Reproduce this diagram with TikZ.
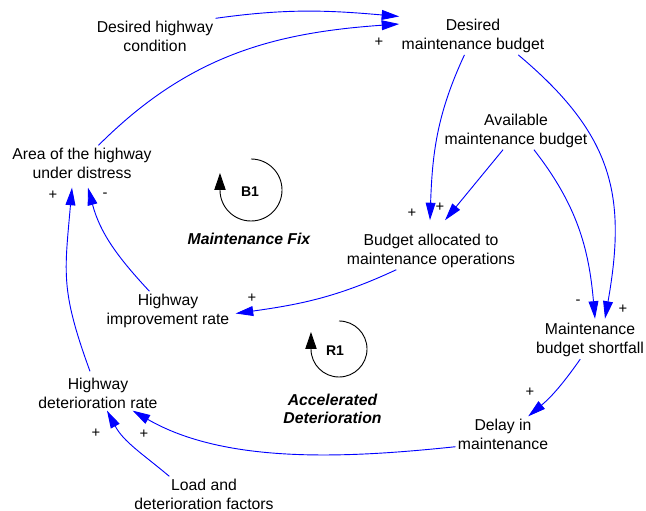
\documentclass[tikz,border=0pt]{standalone}
\usepackage{fontspec}
\setmainfont{Liberation Sans}
\usetikzlibrary{arrows.meta,calc}
\begin{document}
\begin{tikzpicture}[x=.025cm,y=.025cm,
    font=\fontsize{11.2}{13.5}\selectfont,
    var/.style={align=center,inner sep=1.5pt},
    sign/.style={inner sep=0pt,font=\fontsize{10.5}{12}\selectfont},
    link/.style={draw=blue,line width=.65pt,-{Triangle[length=12.5pt,width=7pt]}},
    loopline/.style={line width=.65pt,-{Triangle[length=12pt,width=8pt]}},
    looptitle/.style={align=center,font=\fontsize{11.2}{12.8}\selectfont\bfseries\itshape}]
  \useasboundingbox (0,0) rectangle (646,511);
  % variables
  \node[var] (dhc) at (155,475) {Desired highway\\condition};
  \node[var] (dmb) at (473,475.3) {Desired\\maintenance budget};
  \node[var] (amb) at (516,380.5) {Available\\maintenance budget};
  \node[var] (bao) at (431,260.5) {Budget allocated to\\maintenance operations};
  \node[var] (ahd) at (82,348) {Area of the highway\\under distress};
  \node[var] (hir) at (168,200.5) {Highway\\improvement rate};
  \node[var] (hdr) at (98,118) {Highway\\deterioration rate};
  \node[var] (ldf) at (204,17) {Load and\\deterioration factors};
  \node[var] (mbs) at (590,171) {Maintenance\\budget shortfall};
  \node[var] (dim) at (503,77) {Delay in\\maintenance};
  % causal links
  \draw[link] (dhc.north east) to[out=8,in=175] (dmb.north west);
  \draw[link] (ahd.47) to[out=45,in=184] (dmb.171);
  \draw[link] (dmb.246) to[out=245,in=88] ($(bao.north)+(-1,11)$);
  \draw[link] (amb.236) -- ($(bao.north)+(14,11)$);
  \draw[link] (amb.-47) to[out=-52,in=95] ($(mbs.north)+(5,2)$);
  \draw[link] (dmb.-23) to[out=-40,in=80,looseness=1.15] ($(mbs.north)+(15,2)$);
  \draw[link] (bao.209) to[out=205,in=8] ($(hir.east)+(4,-3)$);
  \draw[link] (hir.134) to[out=133,in=-75] ($(ahd.south)+(6,-7)$);
  \draw[link] ($(hdr.north)+(-8,4)$) to[out=110,in=-95,looseness=1.2] ($(ahd.south)+(-10,-7)$);
  \draw[link] (ldf.153) to[out=140,in=-62] (hdr.-63);
  \draw[link] (dim.195) to[out=186,in=-30,looseness=.85] (hdr.-27);
  \draw[link] (mbs.243) to[out=235,in=40] (dim.35);
  % polarities
  \node[sign] (s1) at (379,469) {+};
  \node[sign] (s2) at (412,298) {+};
  \node[sign] (s3) at (440,304) {+};
  \node[sign] (s4) at (53,316) {+};
  \node[sign] (s5) at (105,316) {-};
  \node[sign] (s6) at (252,213) {+};
  \node[sign] (s7) at (96,78) {+};
  \node[sign] (s8) at (144,77) {+};
  \node[sign] (s9) at (578,209) {-};
  \node[sign] (s10) at (623,202) {+};
  \node[sign] (s11) at (530,119) {+};
  % loop markers
  \coordinate (b1c) at (251,321);
  \node[font=\bfseries] (b1) at (250,319) {B1};
  \draw[loopline] ($(b1c)+(0,31)$) arc[start angle=90,end angle=-180,radius=.775cm] -- ++(0,17);
  \node[looptitle] (fix) at (249,272) {Maintenance Fix};
  \coordinate (r1c) at (339,162);
  \node[font=\bfseries] (r1) at (335,160) {R1};
  \draw[loopline] ($(r1c)+(0,28)$) arc[start angle=90,end angle=-180,radius=.7cm] -- ++(0,17);
  \node[looptitle] (acc) at (332.5,102.5) {Accelerated\\Deterioration};
\end{tikzpicture}
\end{document}
